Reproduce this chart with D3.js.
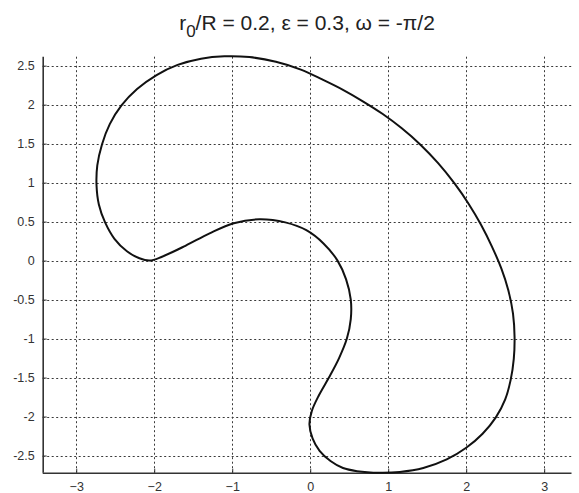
<!DOCTYPE html>
<html><head><meta charset="utf-8">
<script src="https://cdn.jsdelivr.net/npm/d3@7"></script>
<style>body{margin:0;background:#fff;}svg{display:block;font-family:"Liberation Sans",Arial,sans-serif;}</style>
</head><body><svg id="c" width="579" height="493"></svg>
<script>
const xTicks = [-3, -2, -1, 0, 1, 2, 3];
const yTicks = [-2.5, -2, -1.5, -1, -0.5, 0, 0.5, 1, 1.5, 2, 2.5];
const xLimits = [-3.43, 3.35];
const yLimits = [-2.72, 2.615];
const curveX = [0.60,0.89,1.15,1.45,1.75,2.00,2.21,2.38,2.50,2.57,2.61,2.62,2.60,2.54,2.45,2.33,2.19,2.03,1.85,1.64,1.41,1.17,0.93,0.68,0.42,0.16,-0.12,-0.44,-0.78,-1.10,-1.40,-1.70,-1.97,-2.22,-2.42,-2.57,-2.67,-2.73,-2.74,-2.71,-2.63,-2.51,-2.35,-2.19,-2.06,-1.90,-1.60,-1.29,-0.98,-0.65,-0.32,-0.05,0.17,0.35,0.46,0.52,0.52,0.47,0.37,0.24,0.11,0.02,-0.01,0.03,0.12,0.26,0.42];
const curveY = [-2.70,-2.72,-2.71,-2.66,-2.55,-2.40,-2.22,-2.01,-1.78,-1.53,-1.26,-0.98,-0.68,-0.38,-0.10,0.18,0.46,0.73,0.99,1.25,1.49,1.70,1.88,2.04,2.19,2.32,2.45,2.55,2.61,2.62,2.59,2.51,2.38,2.20,1.99,1.75,1.49,1.22,0.97,0.72,0.49,0.28,0.12,0.03,0.00,0.05,0.19,0.35,0.48,0.53,0.49,0.39,0.22,0.00,-0.24,-0.50,-0.75,-1.00,-1.25,-1.50,-1.73,-1.93,-2.10,-2.28,-2.44,-2.57,-2.66];
const title = {main: "r", sub: "0", rest: "/R = 0.2, \u03B5 = 0.3, \u03C9 = -\u03C0/2"};

const svg = d3.select("#c");
const pLeft = 42.7, pRight = 571.5, pTop = 56.7, pBottom = 472.7;
const x = d3.scaleLinear().domain(xLimits).range([pLeft, pRight]);
const y = d3.scaleLinear().domain(yLimits).range([pBottom, pTop]);

// grid
const g = svg.append("g").attr("stroke", "#3a3a3a").attr("stroke-width", 1).attr("stroke-dasharray", "2,2.5");
g.selectAll("line.v").data(xTicks).join("line").attr("class","v")
  .attr("x1", d => Math.round(x(d))+0.5).attr("x2", d => Math.round(x(d))+0.5)
  .attr("y1", pTop).attr("y2", pBottom);
g.selectAll("line.h").data(yTicks).join("line").attr("class","h")
  .attr("y1", d => Math.round(y(d))+0.5).attr("y2", d => Math.round(y(d))+0.5)
  .attr("x1", pLeft).attr("x2", pRight);

// axes
const xAxis = d3.axisBottom(x).tickValues(xTicks).tickSize(-4).tickPadding(9).tickFormat(d3.format("d"));
const yAxis = d3.axisLeft(y).tickValues(yTicks).tickSize(-4).tickPadding(8).tickFormat(d => String(d));
const ax = svg.append("g").attr("transform", `translate(0,${pBottom})`).call(xAxis);
const ay = svg.append("g").attr("transform", `translate(${pLeft},0)`).call(yAxis);
[ax, ay].forEach(a => {
  a.select(".domain").attr("stroke", "#333").attr("stroke-width", 1.6);
  a.selectAll(".tick line").attr("stroke", "#333");
  a.selectAll(".tick text").attr("fill", "#333").attr("font-size", 12.5).attr("font-family", "Liberation Sans, Arial, sans-serif");
});
ax.select(".domain").attr("d", `M${pLeft},0.5H${pRight}`);
ay.select(".domain").attr("d", `M0.5,${pBottom}V${pTop}`);

// curve
const pts = curveX.map((v, i) => [v, curveY[i]]);
svg.append("path").datum(pts)
  .attr("fill", "none").attr("stroke", "#111").attr("stroke-width", 2)
  .attr("d", d3.line().x(d => x(d[0])).y(d => y(d[1])).curve(d3.curveCatmullRomClosed.alpha(0.5)));

// title
const t = svg.append("text").attr("x", 307).attr("y", 30).attr("text-anchor", "middle")
  .attr("font-size", 21).attr("fill", "#222").attr("font-family", "Liberation Sans, Arial, sans-serif");
t.append("tspan").text(title.main);
t.append("tspan").attr("dy", 7).attr("font-size", 17).text(title.sub);
t.append("tspan").attr("dy", -7).text(title.rest);
</script></body></html>
